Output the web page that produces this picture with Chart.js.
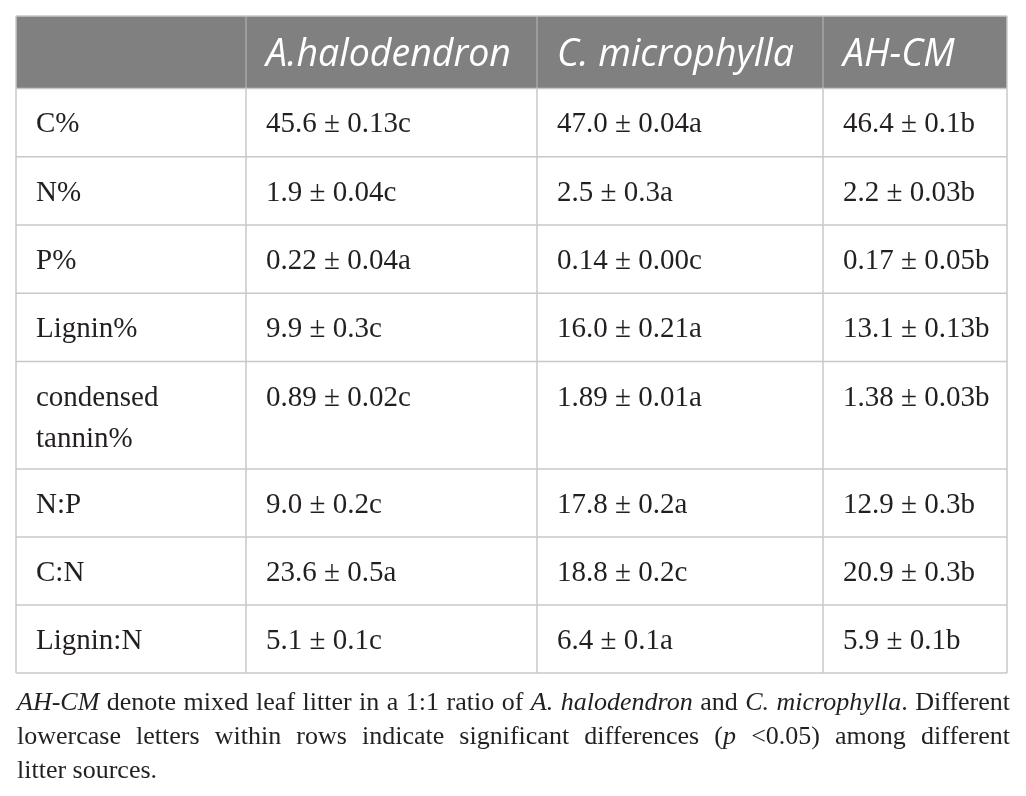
<!DOCTYPE html>
<html>
<head>
<meta charset="utf-8">
<script src="https://cdn.jsdelivr.net/npm/chart.js@4.4.1/dist/chart.umd.min.js"></script>
<style>
  html, body { margin: 0; padding: 0; background: #ffffff; }
  canvas { display: block; }
</style>
</head>
<body>
<canvas id="litterTable" width="1026" height="796"></canvas>
<script>
// Table data
const columnTitles = ['A.halodendron', 'C. microphylla', 'AH-CM'];
const rowLabels = [['C%'], ['N%'], ['P%'], ['Lignin%'], ['condensed', 'tannin%'], ['N:P'], ['C:N'], ['Lignin:N']];
const ahValues = ['45.6 ± 0.13c', '1.9 ± 0.04c', '0.22 ± 0.04a', '9.9 ± 0.3c', '0.89 ± 0.02c', '9.0 ± 0.2c', '23.6 ± 0.5a', '5.1 ± 0.1c'];
const cmValues = ['47.0 ± 0.04a', '2.5 ± 0.3a', '0.14 ± 0.00c', '16.0 ± 0.21a', '1.89 ± 0.01a', '17.8 ± 0.2a', '18.8 ± 0.2c', '6.4 ± 0.1a'];
const mixValues = ['46.4 ± 0.1b', '2.2 ± 0.03b', '0.17 ± 0.05b', '13.1 ± 0.13b', '1.38 ± 0.03b', '12.9 ± 0.3b', '20.9 ± 0.3b', '5.9 ± 0.1b'];

// caption, _..._ marks italic text
const captionLines = [
    '_AH-CM_ denote mixed leaf litter in a 1:1 ratio of _A. halodendron_ and _C. microphylla_. Different',
    'lowercase letters within rows indicate significant differences (_p_ <0.05) among different',
    'litter sources.'
];

// layout (scale units)
const colWidths = [230, 291, 286, 184];
const rowHeights = [72.5, 68.2, 68.3, 68.3, 68.4, 107.6, 68, 68, 68];

const cumulate = arr => arr.reduce((acc, v) => { acc.push(acc[acc.length - 1] + v); return acc; }, [0]);
const sum = arr => arr.reduce((a, b) => a + b, 0);

const bodyFont = '29px "Liberation Serif"';
const headFont = 'italic 37.5px "Open Sans"';

// split a caption line into words made of [text, italic] pieces
function parseLine(line) {
    let italic = false;
    return line.split(' ').map(w => {
        const pieces = [];
        w.split('_').forEach((part, i) => {
            if (i > 0) italic = !italic;
            if (part) pieces.push([part, italic]);
        });
        return pieces;
    });
}

function naturalWidth(ctx, words, size) {
    let w = 0;
    words.forEach(pieces => pieces.forEach(([t, it]) => {
        ctx.font = (it ? 'italic ' : '') + size + 'px "Liberation Serif"';
        w += ctx.measureText(t).width;
    }));
    ctx.font = size + 'px "Liberation Serif"';
    return w + ctx.measureText(' ').width * (words.length - 1);
}

function drawCaption(ctx, words, size, left, width, baseline, justify) {
    const setFont = it => { ctx.font = (it ? 'italic ' : '') + size + 'px "Liberation Serif"'; };
    const wordWidths = words.map(pieces => pieces.reduce((s, [t, it]) => { setFont(it); return s + ctx.measureText(t).width; }, 0));
    setFont(false);
    let gap = ctx.measureText(' ').width;
    if (justify && words.length > 1) gap = Math.max(gap, (width - sum(wordWidths)) / (words.length - 1));
    let cx = left;
    words.forEach(pieces => {
        pieces.forEach(([t, it]) => {
            setFont(it);
            ctx.fillText(t, cx, baseline);
            cx += ctx.measureText(t).width;
        });
        cx += gap;
    });
}

const tablePlugin = {
    id: 'tablePlugin',
    afterDraw(chart) {
        const { ctx, scales: { x, y } } = chart;
        const colX = cumulate(colWidths).map(v => x.getPixelForValue(v));
        const rowY = cumulate(rowHeights).map(v => y.getPixelForValue(v));
        const left = colX[0], right = colX[colX.length - 1];
        const top = rowY[0], bottom = rowY[rowY.length - 1];

        ctx.save();
        // header background
        ctx.fillStyle = '#7f807f';
        ctx.fillRect(left, top, right - left, rowY[1] - top);

        // grid lines
        ctx.lineWidth = 1.5;
        ctx.strokeStyle = '#c8c8c8';
        rowY.forEach(py => {
            ctx.beginPath(); ctx.moveTo(left, py); ctx.lineTo(right, py); ctx.stroke();
        });
        colX.forEach((px, i) => {
            const inner = i > 0 && i < colX.length - 1;
            ctx.strokeStyle = inner ? 'rgba(200,200,200,0.55)' : '#c8c8c8';
            ctx.beginPath(); ctx.moveTo(px, top); ctx.lineTo(px, rowY[1]); ctx.stroke();
            ctx.strokeStyle = '#c8c8c8';
            ctx.beginPath(); ctx.moveTo(px, rowY[1]); ctx.lineTo(px, bottom); ctx.stroke();
        });

        // header text
        ctx.textBaseline = 'alphabetic';
        ctx.textAlign = 'left';
        ctx.fillStyle = '#ffffff';
        ctx.font = headFont;
        columnTitles.forEach((t, i) => ctx.fillText(t, colX[i + 1] + 20, top + 49.5));

        // body text
        ctx.fillStyle = '#231f20';
        ctx.font = bodyFont;
        const columns = [rowLabels, ahValues, cmValues, mixValues];
        columns.forEach((col, c) => {
            col.forEach((cell, r) => {
                const lines = Array.isArray(cell) ? cell : [cell];
                lines.forEach((t, k) => ctx.fillText(t, colX[c] + 20, rowY[r + 1] + 44 + k * 41));
            });
        });

        // caption: first line sets at natural spacing across the table width
        const capLeft = left + 1, capWidth = right - left + 2;
        const parsed = captionLines.map(parseLine);
        const capSize = Math.min(26, 100 * capWidth / naturalWidth(ctx, parsed[0], 100));
        ctx.fillStyle = '#231f20';
        parsed.forEach((words, i) => {
            drawCaption(ctx, words, capSize, capLeft, capWidth, bottom + 37 + i * 34, i < parsed.length - 1);
        });
        ctx.restore();
    }
};

new Chart(document.getElementById('litterTable'), {
    type: 'scatter',
    data: { datasets: [] },
    options: {
        responsive: false,
        animation: false,
        layout: { padding: { left: 16, top: 16, right: 19, bottom: 123 } },
        scales: {
            x: { type: 'linear', min: 0, max: sum(colWidths), display: false },
            y: { type: 'linear', min: 0, max: sum(rowHeights), reverse: true, display: false }
        },
        plugins: { legend: { display: false }, tooltip: { enabled: false } }
    },
    plugins: [tablePlugin]
});
</script>
</body>
</html>
